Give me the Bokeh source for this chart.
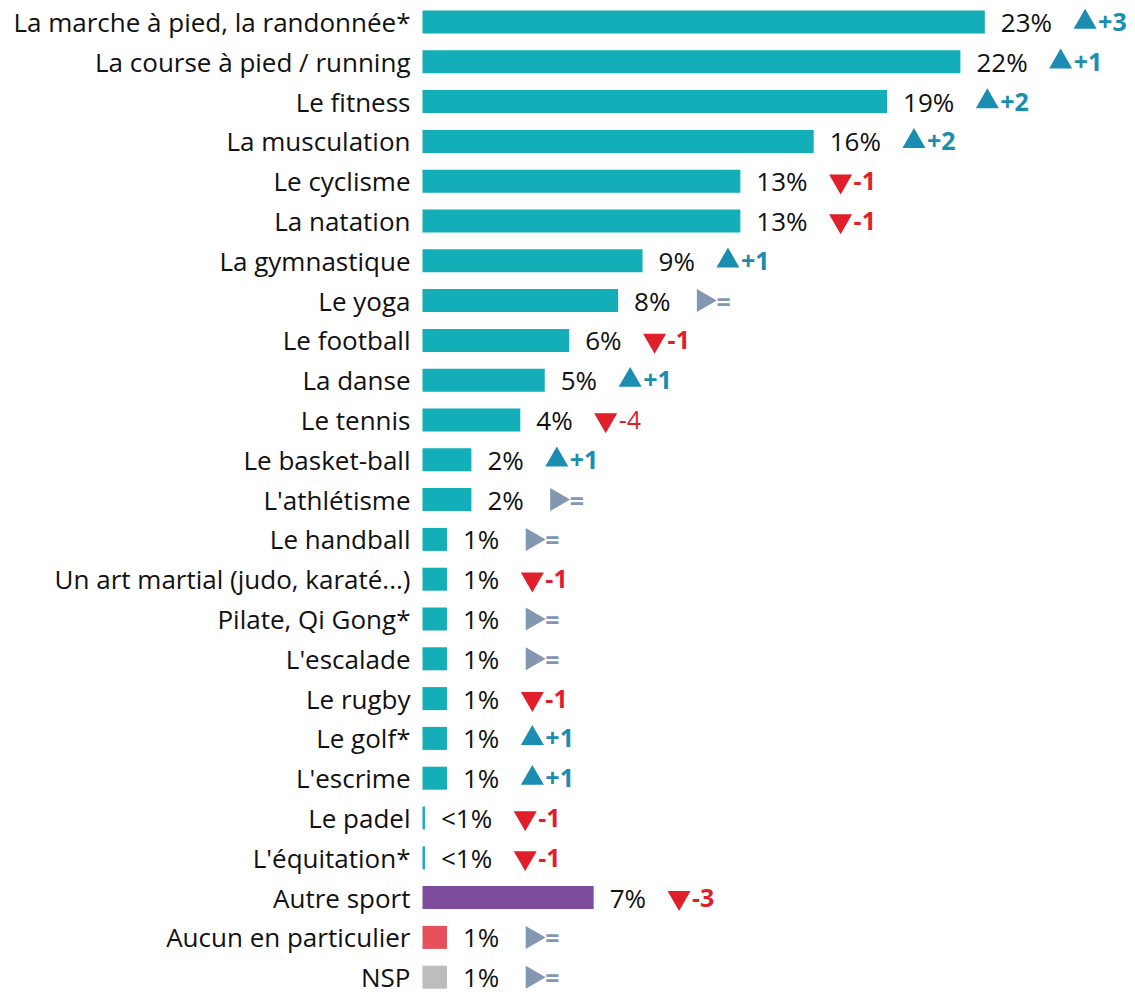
from bokeh.plotting import figure
from bokeh.models import ColumnDataSource, Range1d
from bokeh.embed import file_html
from bokeh.resources import INLINE
from bokeh.core.properties import value
import math

categories = ["La marche à pied, la randonnée*", "La course à pied / running", "Le fitness",
              "La musculation", "Le cyclisme", "La natation", "La gymnastique", "Le yoga",
              "Le football", "La danse", "Le tennis", "Le basket-ball", "L'athlétisme",
              "Le handball", "Un art martial (judo, karaté...)", "Pilate, Qi Gong*", "L'escalade",
              "Le rugby", "Le golf*", "L'escrime", "Le padel", "L'équitation*", "Autre sport",
              "Aucun en particulier", "NSP"]
values = [23, 22, 19, 16, 13, 13, 9, 8, 6, 5, 4, 2, 2, 1, 1, 1, 1, 1, 1, 1, 0.1, 0.1, 7, 1, 1]
value_labels = ["23%", "22%", "19%", "16%", "13%", "13%", "9%", "8%", "6%", "5%", "4%", "2%", "2%",
                "1%", "1%", "1%", "1%", "1%", "1%", "1%", "<1%", "<1%", "7%", "1%", "1%"]
changes = ["+3", "+1", "+2", "+2", "-1", "-1", "+1", "=", "-1", "+1", "-4", "+1", "=",
           "=", "-1", "=", "=", "-1", "+1", "+1", "-1", "-1", "-3", "=", "="]
groups = ["sport"] * 22 + ["autre", "aucun", "nsp"]

# styles
TEAL = "#13aeb8"
group_colors = {"sport": TEAL, "autre": "#7d4c9c", "aucun": "#e5505a", "nsp": "#bdbdbd"}
UP, DOWN, EQ = "#1a8db0", "#e01f2a", "#8396b2"
FONT = "Open Sans"

W, H = 1135, 995
PX_X = 24.45          # px per percentage point
X0_PX = 422           # canvas x of bar origin
ROW = 39.8            # px per row
TOP = 21.5            # canvas y of first row centre

x_start = -X0_PX / PX_X
x_end = x_start + W / PX_X
y_end = TOP / ROW
y_start = y_end - H / ROW

n = len(categories)
ys = [-i for i in range(n)]

def text_w(s, fs=26):
    adv = {"%": 0.828, "<": 0.572}
    return sum(adv.get(c, 0.572) for c in s) * fs

marker_x, marker_type, marker_angle, marker_col, chg_col, chg_weight = [], [], [], [], [], []
for v, lab, ch in zip(values, value_labels, changes):
    off = 16 + text_w(lab) + 33
    marker_x.append(v + off / PX_X)
    if ch.startswith("+"):
        marker_type.append("triangle"); marker_angle.append(0.0); marker_col.append(UP)
        chg_col.append(UP)
    elif ch.startswith("-"):
        marker_type.append("inverted_triangle"); marker_angle.append(0.0); marker_col.append(DOWN)
        chg_col.append(DOWN)
    else:
        marker_type.append("triangle"); marker_angle.append(-math.pi / 2); marker_col.append(EQ)
        chg_col.append(EQ)
    chg_weight.append("normal" if ch == "-4" else "bold")

src = ColumnDataSource(dict(
    cat=categories, val=values, vlab=value_labels, chg=changes, y=ys,
    color=[group_colors[g] for g in groups],
    mx=marker_x, mtype=marker_type, mangle=marker_angle, mcol=marker_col,
    ccol=chg_col, cw=chg_weight, zero=[0] * n,
))

p = figure(width=W, height=H, x_range=Range1d(x_start, x_end), y_range=Range1d(y_start, y_end),
           output_backend="svg", toolbar_location=None, x_axis_location=None, y_axis_location=None,
           min_border=0, min_border_left=0, min_border_right=0, min_border_top=0, min_border_bottom=0)
p.grid.visible = False
p.outline_line_color = None
p.background_fill_color = "white"
p.border_fill_color = "white"

p.hbar(y="y", left="zero", right="val", height=23 / ROW, fill_color="color", line_color=None, source=src)

p.text(x="zero", y="y", text="cat", x_offset=-12, text_align="right", text_baseline="middle",
       text_font=value(FONT), text_font_size="26px", text_color="#111111", source=src)
p.text(x="val", y="y", text="vlab", x_offset=16, text_align="left", text_baseline="middle",
       text_font=value(FONT), text_font_size="26px", text_color="#111111", source=src)

p.scatter(x="mx", y="y", marker="mtype", angle="mangle", size=23, fill_color="mcol",
          line_color=None, source=src)
p.text(x="mx", y="y", text="chg", x_offset=13, text_align="left", text_baseline="middle",
       text_font=value(FONT), text_font_size="25px", text_font_style="cw", text_color="ccol",
       source=src)

open("out.html", "w").write(file_html(p, INLINE))
